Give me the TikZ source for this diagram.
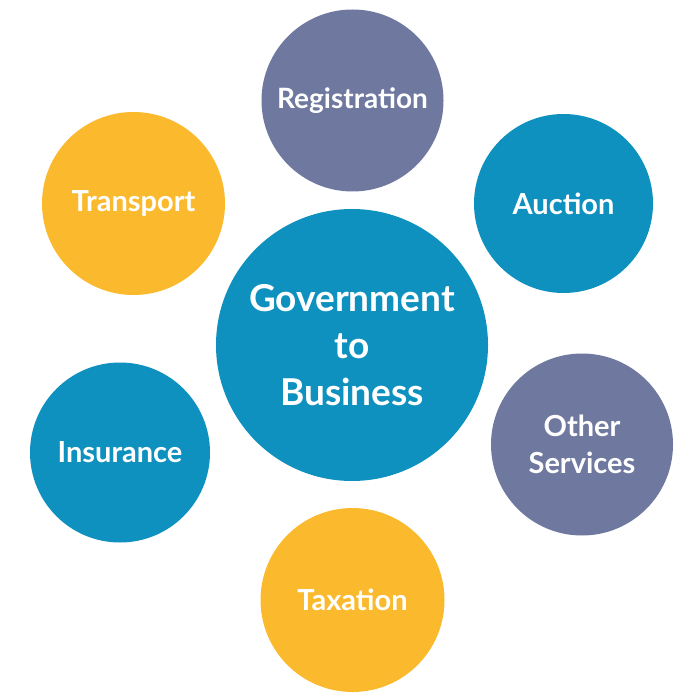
\documentclass[tikz,border=0pt]{standalone}
\usepackage{fontspec}
\setmainfont{Lato}
\definecolor{gblue}{HTML}{0E91BE}
\definecolor{gpurple}{HTML}{6F799F}
\definecolor{gyellow}{HTML}{FBBA2D}
\begin{document}
\begin{tikzpicture}[x=1pt,y=-1pt,
  bubble/.style={circle,inner sep=0pt,minimum size=182pt,text=white,align=center,
    font=\fontsize{29}{37}\selectfont\bfseries},
  hub/.style={circle,inner sep=0pt,minimum size=272pt,fill=gblue,text=white,align=center,
    font=\fontsize{37}{47}\selectfont\bfseries}]
\useasboundingbox (0,0) rectangle (700,700);
\node[hub] (g2b) at (352,345) {Government\\to\\Business};
\node[bubble,fill=gpurple,font=\fontsize{28}{37}\selectfont\bfseries] (reg) at (352.5,100.5) {Registration};
\node[bubble,fill=gblue,minimum size=179pt] (auc) at (563.5,203.5) {Auction};
\node[bubble,fill=gpurple] (oth) at (582,444.5) {Other\\Services};
\node[bubble,fill=gyellow,minimum size=184pt] (tax) at (352.5,600) {Taxation};
\node[bubble,fill=gblue,minimum size=180pt] (ins) at (120,452.5) {Insurance};
\node[bubble,fill=gyellow,minimum size=183pt] (tra) at (133.5,203.5) {Transport};
\end{tikzpicture}
\end{document}
